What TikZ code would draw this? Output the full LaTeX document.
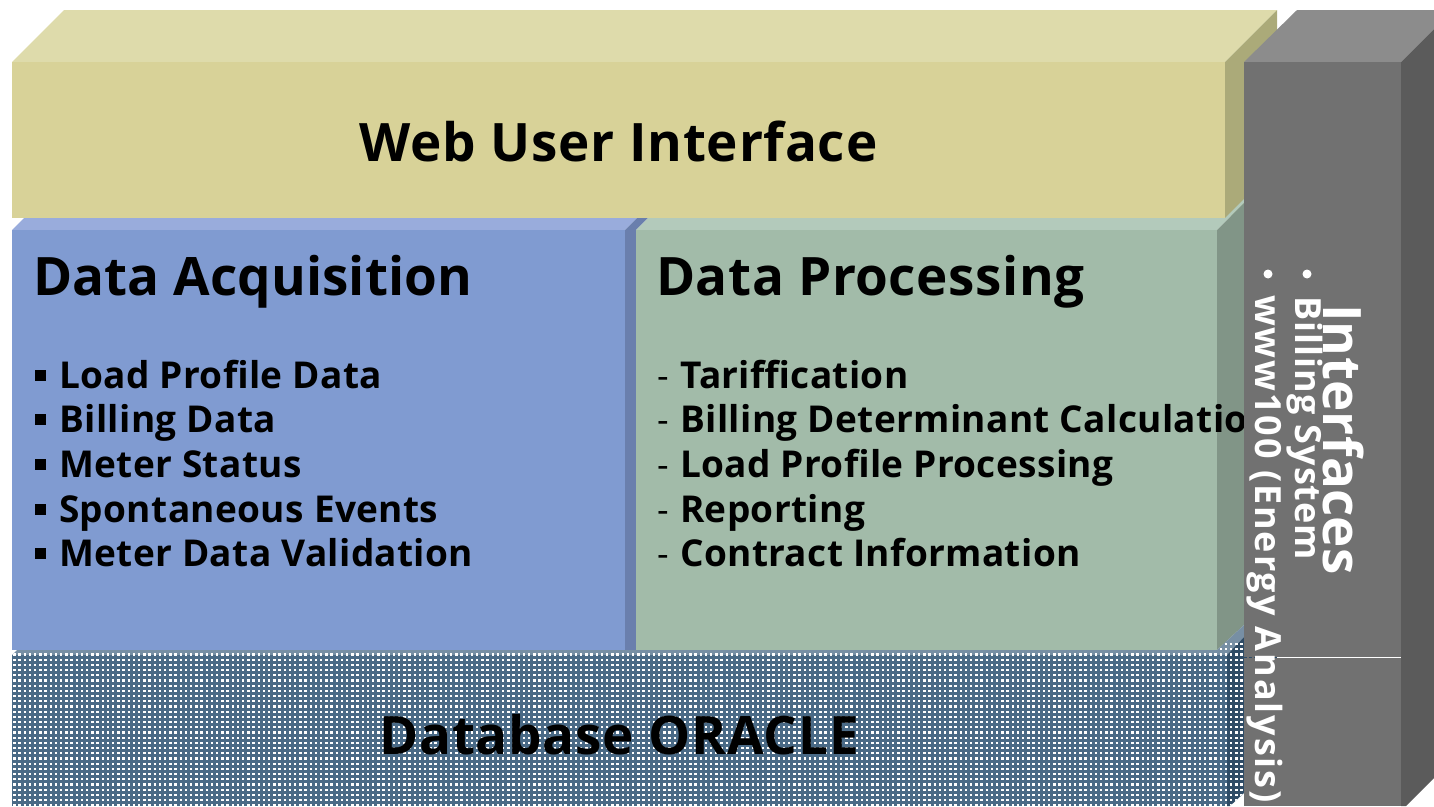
\documentclass[tikz,border=0pt]{standalone}
\usepackage{fontspec}
\setmainfont{Open Sans}[BoldFont={Open Sans Bold}]
\newfontfamily\ttl{Open Sans Bold}[LetterSpace=1.0]
\newfontfamily\ttlw{Open Sans Bold}[LetterSpace=1.5]
\newfontfamily\ttla{Open Sans Bold}[LetterSpace=0.2]
\newfontfamily\ttlv{Open Sans Bold}[LetterSpace=0.5]
\newfontfamily\semia{Open Sans Bold}[LetterSpace=2.8]
\newfontfamily\semib{Open Sans Bold}[LetterSpace=5.3]
\definecolor{webF}{HTML}{D8D298}\definecolor{webT}{HTML}{DEDBAB}\definecolor{webS}{HTML}{ABAA79}
\definecolor{gryF}{HTML}{717171}\definecolor{gryT}{HTML}{8C8C8C}\definecolor{gryS}{HTML}{5B5B5B}
\definecolor{bluF}{HTML}{809BD1}\definecolor{bluT}{HTML}{99ACDC}\definecolor{bluS}{HTML}{6A7FAD}
\definecolor{grnF}{HTML}{A2BBA9}\definecolor{grnT}{HTML}{B3CABB}\definecolor{grnS}{HTML}{819587}
\definecolor{dbF}{HTML}{4A6A86}\definecolor{dbS}{HTML}{2F4C66}
\newcommand\dbdots{\foreach \r in {0,...,31} {\draw[white,line width=2.2pt,dash pattern=on 2.3pt off 2.9pt] (8,{644+5.2*\r})--(1250,{644+5.2*\r});}}
\tikzset{
 title/.style={font=\ttl\fontsize{53}{53}\selectfont,anchor=base west,inner sep=0pt},
 item/.style={font=\ttl\fontsize{37}{37}\selectfont,anchor=base west,inner sep=0pt},
 bulletbox/.style={fill=black,inner sep=0pt,minimum size=11pt,rectangle},
 dashmark/.style={font=\fontsize{36}{36}\selectfont,anchor=base west,inner sep=0pt},
 vtitle/.style={font=\ttlv\fontsize{53}{53}\selectfont,white,anchor=base west,inner sep=0pt,rotate=-90},
 wdot/.style={circle,fill=white,inner sep=0pt,minimum size=9pt}
}
\begin{document}
\begin{tikzpicture}[x=1pt,y=-1pt]
\useasboundingbox (0,0) rectangle (1434,806);
\fill[webT] (12,62)--(64,10)--(1277,10)--(1225,62)--cycle;
\fill[webS] (1225,62)--(1277,10)--(1277,200)--(1225,218)--cycle;
\fill[webF] (12,62) rectangle (1225,218);
\fill[bluT] (12,230)--(24,218)--(637,218)--(625,230)--cycle;
\fill[bluS] (625,230)--(637,218)--(648,218)--(636,230)--(636,650)--(625,650)--cycle;
\fill[bluF] (12,230) rectangle (625,650);
\fill[grnT] (636,230)--(648,218)--(1225,218)--(1244,199)--(1244,203)--(1217,230)--cycle;
\fill[grnS] (1217,230)--(1244,203)--(1244,625)--(1217,650)--cycle;
\fill[grnF] (636,230) rectangle (1217,650);
% database
\fill[dbF!75!white] (12,655)--(17,650)--(1217,650)--(1244,625)--(1244,637)--(1227,655)--cycle;
\fill[dbF] (12,655) rectangle (1227,806);
\fill[dbS] (1227,655)--(1244,637)--(1244,793)--(1230,806)--(1227,806)--cycle;
\begin{scope}
\clip (12,655)--(17,650)--(1217,650)--(1244,625)--(1244,793)--(1230,806)--(12,806)--cycle;
\dbdots
\end{scope}
% text that the grey column overlaps
\node[title,font=\ttlw\fontsize{53}{53}\selectfont] (w) at (359,161.5) {Web User Interface};
\node[title,font=\ttla\fontsize{53}{53}\selectfont] (a) at (33,295) {Data Acquisition};
\node[title] (p) at (656,295) {Data Processing};
\node[title,font=\ttlw\fontsize{53}{53}\selectfont] (d) at (379,754) {Database ORACLE};
\node[bulletbox] (b1) at (40.5,375) {};
\node[bulletbox] (b2) at (40.5,419) {};
\node[bulletbox] (b3) at (40.5,464) {};
\node[bulletbox] (b4) at (40.5,509) {};
\node[bulletbox] (b5) at (40.5,553) {};
\node[item] (a1) at (59,388) {Load Profile Data};
\node[item] (a2) at (59,432) {Billing Data};
\node[item] (a3) at (59,477) {Meter Status};
\node[item] (a4) at (59,522) {Spontaneous Events};
\node[item] (a5) at (59,566.5) {Meter Data Validation};
\node[dashmark] (d1) at (657,388) {-};
\node[dashmark] (d2) at (657,432) {-};
\node[dashmark] (d3) at (657,477) {-};
\node[dashmark] (d4) at (657,522) {-};
\node[dashmark] (d5) at (657,566.5) {-};
\node[item] (p1) at (680,388) {Tariffication};
\node[item] (p2) at (680,432) {Billing Determinant Calculation};
\node[item] (p3) at (680,477) {Load Profile Processing};
\node[item] (p4) at (680,522) {Reporting};
\node[item] (p5) at (680,566.5) {Contract Information};
% grey column
\fill[gryT] (1244,62)--(1297,10)--(1434,10)--(1434,29)--(1401,62)--cycle;
\fill[gryS] (1401,62)--(1434,29)--(1434,778)--(1406,806)--(1401,806)--cycle;
\fill[gryF] (1244,62) rectangle (1401,806);
\coordinate (l0) at (1244,657.5);
\coordinate (l1) at (1277,657.5);
\coordinate (l2) at (1401,657.5);
\draw[dbS,line width=1pt,dash pattern=on 3pt off 2pt] (l0)--(l1);
\draw[white,line width=1pt] (l1)--(l2);
\node[vtitle] (i) at (1323,304) {Interfaces};
\node[wdot] (v1) at (1307,274) {};
\node[font=\semia\fontsize{36}{36}\selectfont,white,anchor=base west,inner sep=0pt,rotate=-90] (i1) at (1295,296) {Billing System};
\node[wdot] (v2) at (1268,274) {};
\node[font=\semib\fontsize{36}{36}\selectfont,white,anchor=base west,inner sep=0pt,rotate=-90] (i2) at (1255,295) {www100 (Energy Analysis)};
\end{tikzpicture}
\end{document}
